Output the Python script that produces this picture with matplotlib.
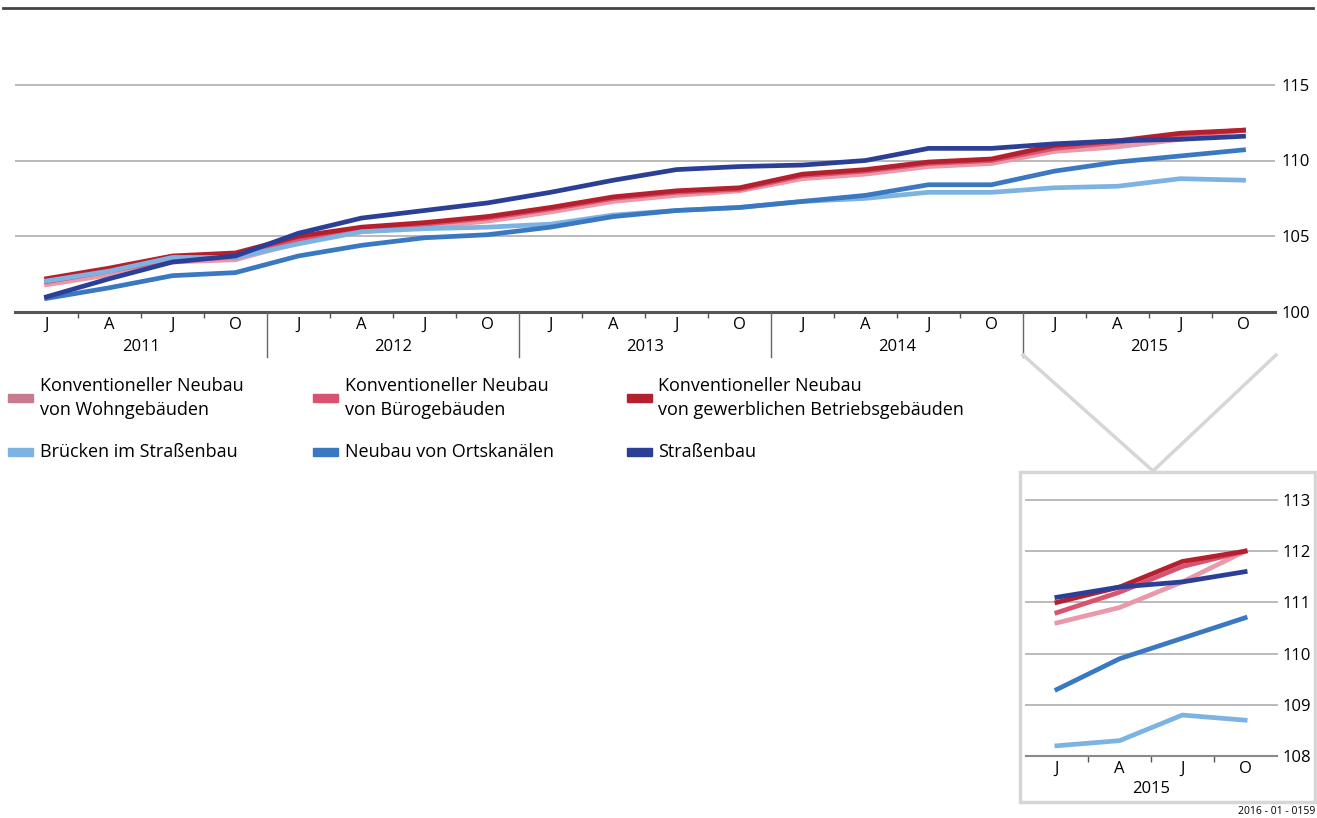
import matplotlib
matplotlib.use("Agg")
import matplotlib.pyplot as plt
from matplotlib.lines import Line2D
from matplotlib.patches import Rectangle
import matplotlib.transforms as mtransforms

plt.rcParams['font.family'] = ['Open Sans', 'DejaVu Sans']

# Quartale 2011-2015
quartale = ["J", "A", "J", "O"]
jahre = ["2011", "2012", "2013", "2014", "2015"]

wohn = [101.8, 102.45, 103.3, 103.45, 104.6, 105.3, 105.6, 106.0, 106.6, 107.3,
        107.7, 108.0, 108.8, 109.1, 109.6, 109.8, 110.6, 110.9, 111.4, 112.0]
buero = [102.0, 102.7, 103.5, 103.6, 104.8, 105.5, 105.8, 106.2, 106.8, 107.5,
         107.9, 108.1, 109.0, 109.3, 109.8, 110.0, 110.8, 111.2, 111.7, 112.0]
gewerbe = [102.2, 102.9, 103.7, 103.9, 105.0, 105.6, 105.9, 106.3, 106.9, 107.6,
           108.0, 108.2, 109.1, 109.4, 109.9, 110.1, 111.0, 111.3, 111.8, 112.0]
bruecken = [102.05, 102.7, 103.6, 103.6, 104.5, 105.3, 105.5, 105.6, 105.8, 106.4,
            106.7, 106.9, 107.3, 107.5, 107.9, 107.9, 108.2, 108.3, 108.8, 108.7]
kanaele = [100.9, 101.6, 102.4, 102.6, 103.7, 104.4, 104.9, 105.1, 105.6, 106.3,
           106.7, 106.9, 107.3, 107.7, 108.4, 108.4, 109.3, 109.9, 110.3, 110.7]
strasse = [101.0, 102.2, 103.3, 103.7, 105.2, 106.2, 106.7, 107.2, 107.9, 108.7,
           109.4, 109.6, 109.7, 110.0, 110.8, 110.8, 111.1, 111.3, 111.4, 111.6]

reihen = [
    ("Konventioneller Neubau\nvon Wohngebäuden", wohn, "#e899aa", "#c97b8e"),
    ("Konventioneller Neubau\nvon Bürogebäuden", buero, "#d9536f", "#d9536f"),
    ("Konventioneller Neubau\nvon gewerblichen Betriebsgebäuden", gewerbe, "#b5202e", "#b5202e"),
    ("Brücken im Straßenbau", bruecken, "#7db3e2", "#7db3e2"),
    ("Neubau von Ortskanälen", kanaele, "#3a78c2", "#3a78c2"),
    ("Straßenbau", strasse, "#2b3f97", "#2b3f97"),
]

W, H = 1317, 818
fig = plt.figure(figsize=(W / 100, H / 100), dpi=100)

def fx(x):
    return x / W

def fy(y):
    return 1 - y / H

fs = 12
lw = 3.4

# Hauptdiagramm
ax = fig.add_axes([fx(15), fy(312), 1260 / W, 303 / H])
n = len(strasse)
x = list(range(n))
for name, werte, farbe, _ in reihen:
    ax.plot(x, werte, color=farbe, lw=lw, solid_joinstyle="round", zorder=3)

ax.set_xlim(-0.5, n - 0.5)
ax.set_ylim(100, 120)
for s in ax.spines.values():
    s.set_visible(False)
for v in [105, 110, 115]:
    ax.axhline(v, color="#b4b4b4", lw=1.3, zorder=1)
ax.axhline(100, color="#555555", lw=2.2, zorder=2, clip_on=False)

ax.yaxis.tick_right()
ax.set_yticks([100, 105, 110, 115])
ax.tick_params(axis="y", length=0, pad=5, labelsize=fs)
ax.set_xticks(x)
ax.set_xticklabels(quartale * len(jahre))
ax.tick_params(axis="x", which="major", length=0, pad=3.5, labelsize=fs)
ax.set_xticks([k + 0.5 for k in range(n - 1) if (k + 1) % 4 != 0], minor=True)
ax.tick_params(axis="x", which="minor", length=4.5, width=1, color="#555555")

trans = mtransforms.blended_transform_factory(ax.transData, ax.transAxes)
for j in range(1, len(jahre)):
    ax.plot([4 * j - 0.5] * 2, [0, -45 / 303], transform=trans, color="#666666",
            lw=1, clip_on=False)
for j, jahr in enumerate(jahre):
    ax.text(4 * j + 1.5, -35 / 303, jahr, transform=trans, ha="center", va="center",
            fontsize=fs)

# obere Linie
fig.add_artist(Line2D([fx(3), fx(1313)], [fy(8), fy(8)], color="#444444", lw=2))

# Legende
spalten = [(8, 40), (313, 345), (627, 658)]
zeilen = [398, 452]
for i, (name, _, _, patch) in enumerate(reihen):
    px, tx = spalten[i % 3]
    ty = zeilen[i // 3]
    fig.add_artist(Rectangle((fx(px), fy(ty + 4)), 25 / W, 8 / H, color=patch,
                             transform=fig.transFigure))
    fig.text(fx(tx), fy(ty), name, ha="left", va="center", fontsize=13,
             linespacing=1.4)

# Verbindungslinien zur Lupe
grau = "#d6d6d6"
fig.add_artist(Line2D([fx(1023), fx(1153)], [fy(355), fy(471)], color=grau, lw=2.5))
fig.add_artist(Line2D([fx(1276), fx(1153)], [fy(355), fy(471)], color=grau, lw=2.5))
fig.add_artist(Rectangle((fx(1020), fy(802)), 295 / W, 330 / H, fill=False,
                         edgecolor=grau, lw=2.5, transform=fig.transFigure))

# Ausschnitt 2015
ax2 = fig.add_axes([fx(1025.5), fy(756), 251 / W, 256 / H])
x2 = list(range(4))
for name, werte, farbe, _ in reihen:
    ax2.plot(x2, werte[-4:], color=farbe, lw=lw, solid_joinstyle="round", zorder=3)
ax2.set_xlim(-0.5, 3.5)
ax2.set_ylim(108, 113)
for s in ax2.spines.values():
    s.set_visible(False)
for v in [109, 110, 111, 112, 113]:
    ax2.axhline(v, color="#b4b4b4", lw=1.3, zorder=1, clip_on=False)
ax2.axhline(108, color="#8a8a8a", lw=1.5, zorder=2, clip_on=False)
ax2.yaxis.tick_right()
ax2.set_yticks([108, 109, 110, 111, 112, 113])
ax2.tick_params(axis="y", length=0, pad=4, labelsize=fs)
ax2.set_xticks(x2)
ax2.set_xticklabels(quartale)
ax2.tick_params(axis="x", which="major", length=0, pad=3.5, labelsize=fs)
ax2.set_xticks([0.5, 1.5, 2.5], minor=True)
ax2.tick_params(axis="x", which="minor", length=4.5, width=1, color="#555555")
trans2 = mtransforms.blended_transform_factory(ax2.transData, ax2.transAxes)
ax2.text(1.5, -33 / 256, jahre[-1], transform=trans2, ha="center", va="center",
         fontsize=fs)

fig.text(fx(1315), fy(812), "2016 - 01 - 0159", ha="right", va="center", fontsize=7.5)

fig.savefig("out.png", dpi=100)
